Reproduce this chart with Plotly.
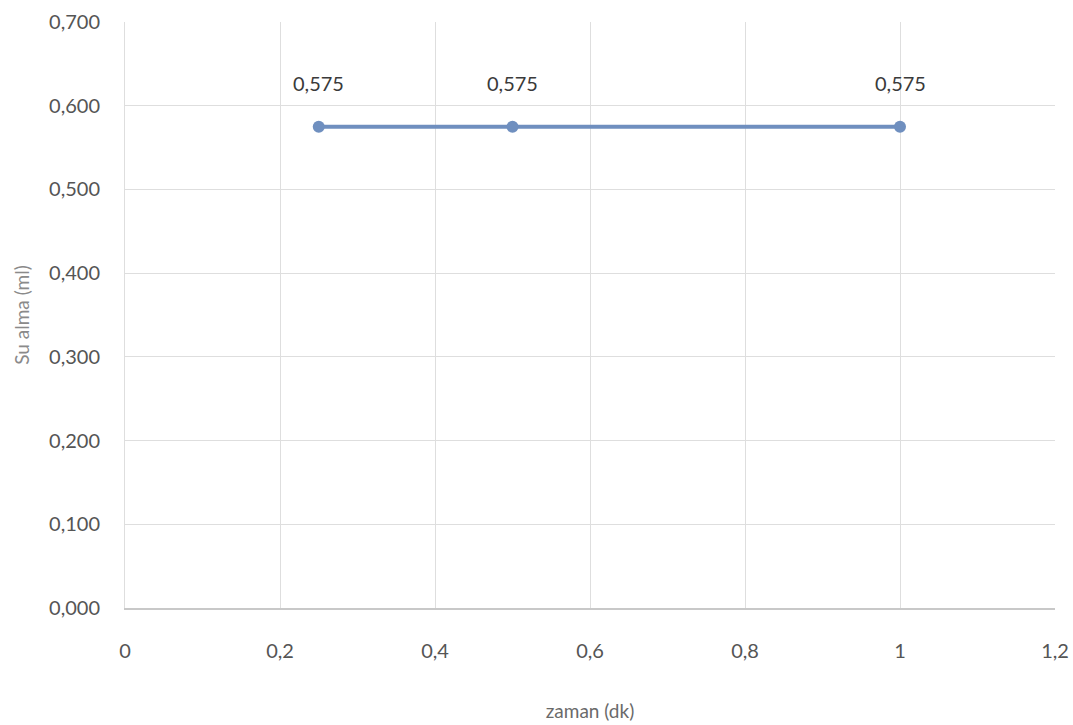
import plotly.graph_objects as go

# Su alma verisi
zaman_dk = [0.25, 0.5, 1.0]
su_alma_ml = [0.575, 0.575, 0.575]
etiketler = ["0,575", "0,575", "0,575"]

y_ticks = [0.0, 0.1, 0.2, 0.3, 0.4, 0.5, 0.6, 0.7]
y_ticktext = ["0,000", "0,100", "0,200", "0,300", "0,400", "0,500", "0,600", "0,700"]
x_ticks = [0, 0.2, 0.4, 0.6, 0.8, 1.0, 1.2]
x_ticktext = ["0", "0,2", "0,4", "0,6", "0,8", "1", "1,2"]

font_family = "Lato, 'Open Sans', sans-serif"
grid_color = "#dedede"

fig = go.Figure()
fig.add_trace(go.Scatter(
    x=zaman_dk, y=su_alma_ml, mode="lines+markers",
    line=dict(color="#6f8fbf", width=4),
    marker=dict(symbol="circle", size=12, color="#6f8fbf"),
    showlegend=False, hoverinfo="skip",
))

for xv, yv, t in zip(zaman_dk, su_alma_ml, etiketler):
    fig.add_annotation(x=xv, y=yv, text=t, showarrow=False, yshift=44,
                       font=dict(family=font_family, size=20, color="#3a3a3a"))

fig.update_layout(
    width=1073, height=725,
    margin=dict(l=125, r=18, t=22, b=117),
    paper_bgcolor="white", plot_bgcolor="white",
    font=dict(family=font_family, size=18, color="#5a5a5a"),
    xaxis=dict(
        range=[0, 1.2], tickvals=x_ticks, ticktext=x_ticktext,
        automargin=False,
        showgrid=True, gridcolor=grid_color, gridwidth=1,
        zeroline=False, showline=True, linecolor="#c8c8c8", linewidth=1.5,
        ticks="", ticklabelstandoff=24,
        tickfont=dict(size=20, color="#555555"),
        title=dict(text="zaman (dk)", standoff=44,
                   font=dict(size=19, color="#6a6a6a")),
    ),
    yaxis=dict(
        range=[0, 0.7], tickvals=y_ticks, ticktext=y_ticktext,
        automargin=False,
        showgrid=True, gridcolor=grid_color, gridwidth=1,
        zeroline=False, showline=True, linecolor=grid_color, linewidth=1,
        ticks="", ticklabelstandoff=20,
        tickfont=dict(size=20, color="#555555"),
        title=dict(text="Su alma (ml)", standoff=14,
                   font=dict(size=19, color="#8a8a8a")),
    ),
)

fig.write_html("out.html")
